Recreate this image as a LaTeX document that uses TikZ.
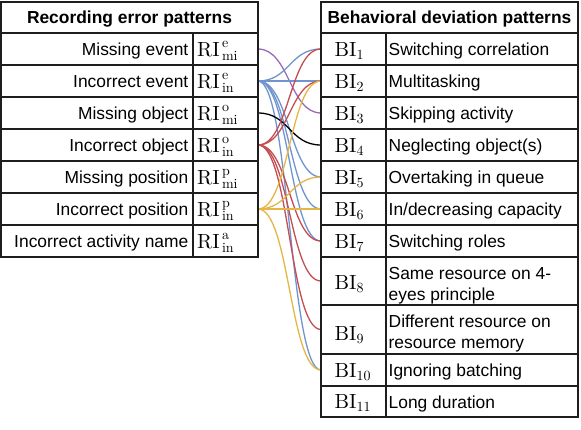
\documentclass[tikz,border=0pt]{standalone}
\usepackage{fontspec}
\newfontfamily\labf{Liberation Sans}
\newfontfamily\lmten{lmroman10-regular}[Extension=.otf]
\pgfdeclarelayer{bg}
\pgfsetlayers{bg,main}
\definecolor{cblue}{HTML}{6F94CF}
\definecolor{cred}{HTML}{C44E52}
\definecolor{cyel}{HTML}{E5B646}
\definecolor{cpur}{HTML}{9A6BB8}
\definecolor{cgrid}{HTML}{1E1E1E}
\newcommand\risym[2]{{\lmten\fontsize{20.5}{24}\selectfont RI\fontsize{14}{16}\selectfont\,\rlap{\raisebox{8.5pt}{#1}}\raisebox{-4.5pt}{#2}}}
\newcommand\bisym[1]{{\lmten\fontsize{20.5}{24}\selectfont BI\fontsize{14}{16}\selectfont\raisebox{-3pt}{#1}}}
\begin{document}
\begin{tikzpicture}[x=1pt,y=-1pt,
  cell/.style={draw=cgrid, line width=1.6pt, inner sep=0pt, outer sep=0pt, minimum height=32pt},
  lbl/.style={inner sep=0pt, font=\labf\fontsize{17.4}{21}\selectfont},
  hdr/.style={inner sep=0pt, font=\labf\bfseries\fontsize{17.4}{21}\selectfont},
  sym/.style={inner sep=0pt},
  con/.style={line width=1.3pt},
  cv/.style={to path={.. controls +(31.5,0) and +(-31.5,0) .. (\tikztotarget)}}
]
\begin{pgfonlayer}{bg}
\fill[white] (0,0) rectangle (581,429);
\end{pgfonlayer}
\useasboundingbox (0,0) rectangle (581,429);

% ---------- left table ----------
\node[cell, minimum width=257pt, minimum height=31pt] (lh) at (129.5,17.5) {};
\node[hdr, anchor=base] (lht) at (129.5,23.5) {Recording error patterns};
\foreach \i/\t in {1/Missing event,2/Incorrect event,3/Missing object,4/Incorrect object,5/Missing position,6/Incorrect position,7/Incorrect activity name}{
  \pgfmathsetmacro{\yc}{49+32*(\i-1)}
  \node[cell, minimum width=192pt] (l\i) at (97,\yc) {};
  \node[cell, minimum width=65pt] (r\i) at (225.5,\yc) {};
  \node[lbl, anchor=base east] (lt\i) at (188.5,\yc+6.5) {\t};
}
\node[sym, anchor=base west] (rt1) at (197,56) {\risym{e}{mi}};
\node[sym, anchor=base west] (rt2) at (197,88) {\risym{e}{in}};
\node[sym, anchor=base west] (rt3) at (197,120) {\risym{o}{mi}};
\node[sym, anchor=base west] (rt4) at (197,152) {\risym{o}{in}};
\node[sym, anchor=base west] (rt5) at (197,184) {\risym{p}{mi}};
\node[sym, anchor=base west] (rt6) at (197,216) {\risym{p}{in}};
\node[sym, anchor=base west] (rt7) at (197,248) {\risym{a}{in}};

% ---------- right table ----------
\node[cell, minimum width=257pt, minimum height=31pt] (rh) at (449.5,17.5) {};
\node[hdr, anchor=base] (rht) at (449.5,23.5) {Behavioral deviation patterns};
\foreach \i/\yc/\h in {1/49/32,2/81/32,3/113/32,4/145/32,5/177/32,6/209/32,7/241/32,8/281/48,9/329.5/49,10/370/32,11/401.5/31}{
  \node[cell, minimum width=65pt, minimum height=\h pt] (b\i) at (353.5,\yc) {};
  \node[cell, minimum width=192pt, minimum height=\h pt] (d\i) at (482,\yc) {};
}
\foreach \i/\yc in {1/49,2/81,3/113,4/145,5/177,6/209,7/241,8/282,9/333,10/370,11/401.5}{
  \node[sym, anchor=base west] (bt\i) at (334.5,\yc+7) {\bisym{\i}};
}
\node[lbl, anchor=base west] (dt1) at (388.5,55.5) {Switching correlation};
\node[lbl, anchor=base west] (dt2) at (388.5,87.5) {Multitasking};
\node[lbl, anchor=base west] (dt3) at (388.5,119.5) {Skipping activity};
\node[lbl, anchor=base west] (dt4) at (388.5,151.5) {Neglecting object(s)};
\node[lbl, anchor=base west] (dt5) at (388.5,183.5) {Overtaking in queue};
\node[lbl, anchor=base west] (dt6) at (388.5,215.5) {In/decreasing capacity};
\node[lbl, anchor=base west] (dt7) at (388.5,247.5) {Switching roles};
\node[lbl, anchor=base west] (dt8a) at (388.5,279) {Same resource on 4-};
\node[lbl, anchor=base west] (dt8b) at (388.5,300.5) {eyes principle};
\node[lbl, anchor=base west] (dt9a) at (388.5,327) {Different resource on};
\node[lbl, anchor=base west] (dt9b) at (388.5,348.5) {resource memory};
\node[lbl, anchor=base west] (dt10) at (388.5,376.5) {Ignoring batching};
\node[lbl, anchor=base west] (dt11) at (388.5,408) {Long duration};

% ---------- connectors ----------
\begin{pgfonlayer}{bg}
\draw[con, cpur] (r1.east) to[cv] (b3.west);
\foreach \j in {1,2,5,6,7,10}{\draw[con, cblue] (r2.east) to[cv] (b\j.west);}
\draw[con, black] (r3.east) to[cv] (b4.west);
\foreach \j in {1,2,7,8,9}{\draw[con, cred] (r4.east) to[cv] (b\j.west);}
\foreach \j in {2,5,6,10}{\draw[con, cyel] (r6.east) to[cv] (b\j.west);}
\end{pgfonlayer}
\end{tikzpicture}
\end{document}
